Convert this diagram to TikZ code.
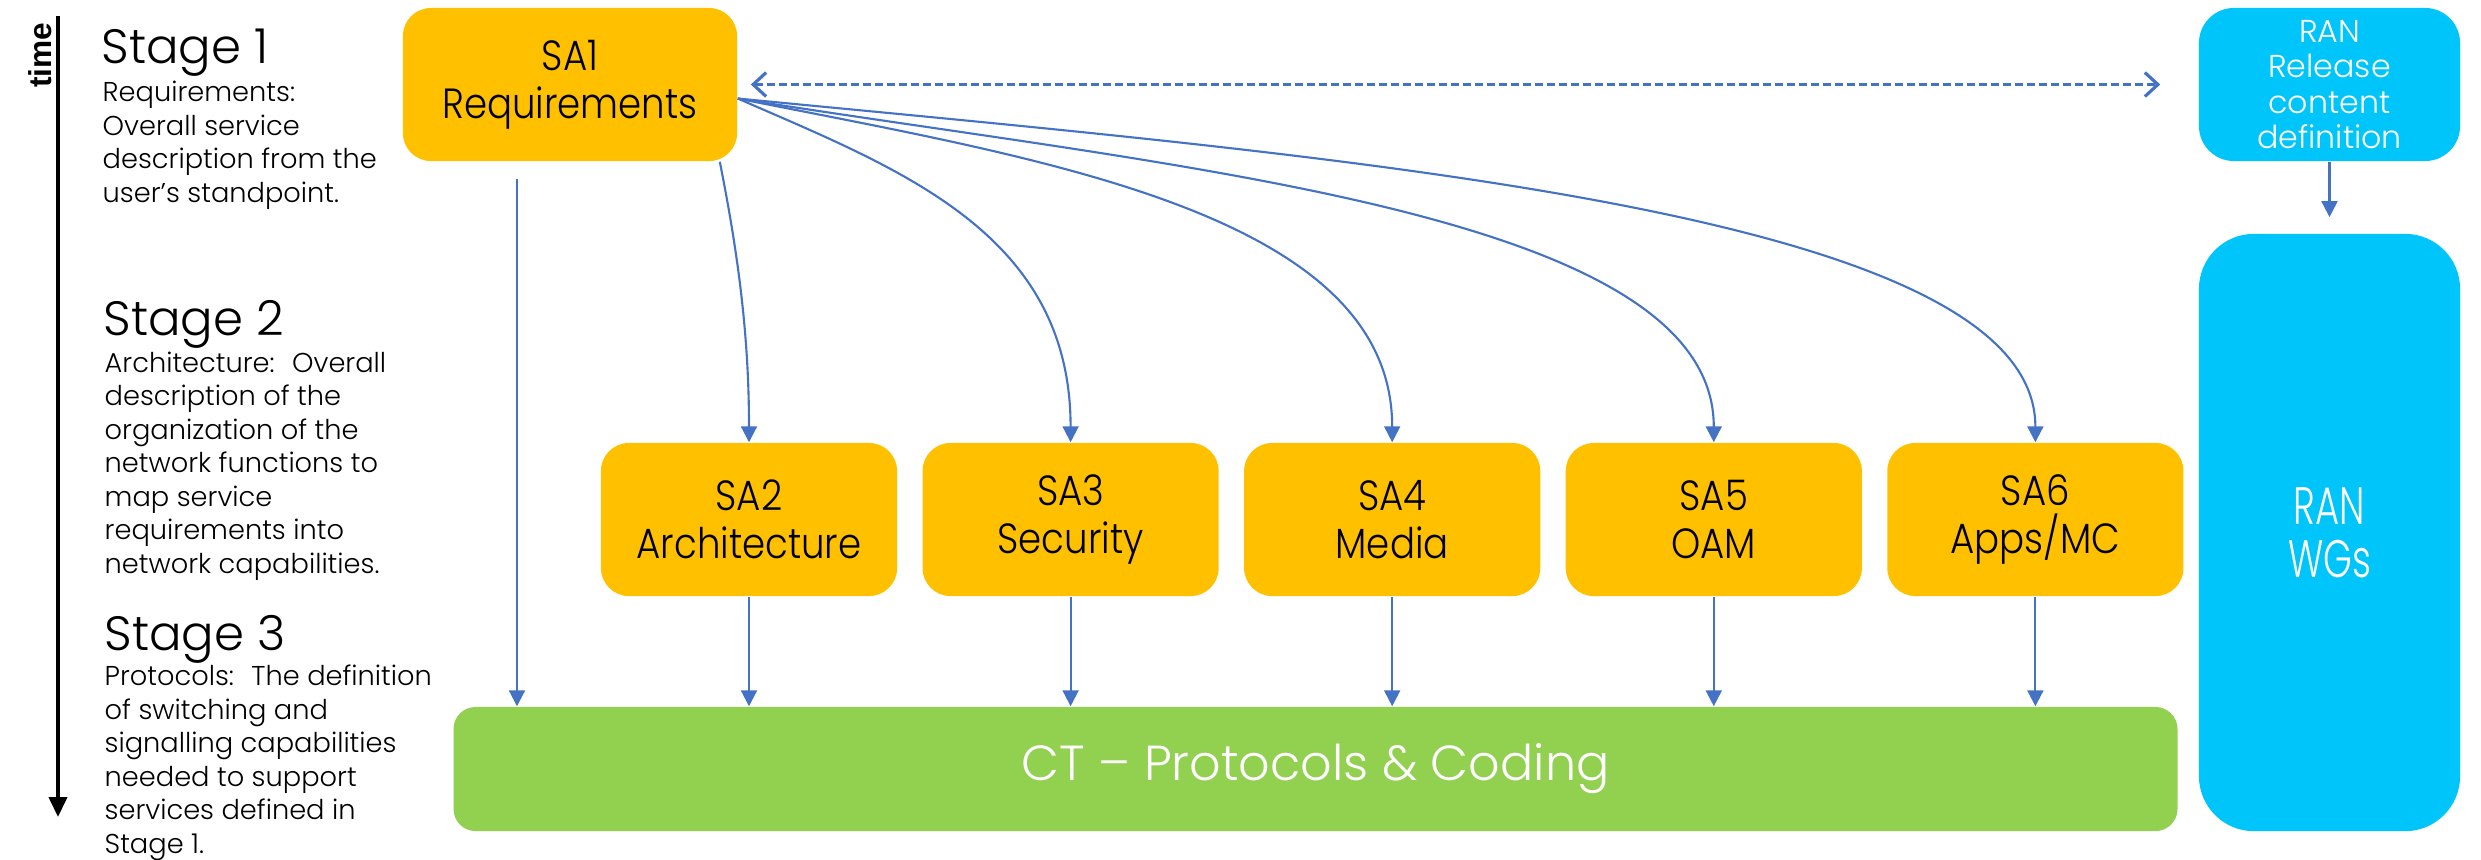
\documentclass[tikz,border=0pt]{standalone}
\usepackage{fontspec}
\setmainfont{Poppins Light}
\newfontfamily\boxfont{Poppins Light}[FakeStretch=0.88]
\newfontfamily\narrowfont{Poppins Light}[FakeStretch=0.7]
\newfontfamily\timefont{Liberation Sans}
\usepackage{tikz}
\usetikzlibrary{positioning, arrows.meta}
\definecolor{saorange}{HTML}{FFC000}
\definecolor{ctgreen}{HTML}{92D050}
\definecolor{rancyan}{HTML}{00C5FA}
\definecolor{arrowblue}{HTML}{4472C4}
\tikzset{
    block/.style={
        fill = saorange, rounded corners = 0.28cm,
        minimum width = 2.96cm,
        minimum height = 1.53cm,
        align = center, inner sep = 0pt,
        font = \boxfont\fontsize{12}{13.7}\selectfont
    },
    ranblock/.style={
        fill = rancyan, text = white,
        minimum width = 2.61cm,
        align = center, inner sep = 0pt
    },
    stagetitle/.style = {anchor = base west, inner sep = 0pt, font = \fontsize{13.7}{16}\selectfont},
    stagetext/.style = {anchor = base west, inner sep = 0pt, align = left, font = \fontsize{7.75}{9.5}\selectfont},
    line/.style = {arrowblue, line width = 0.6pt, -{Triangle[length=1.6mm, width=1.6mm]}},
    dline/.style = {arrowblue, line width = 0.9pt, dash pattern = on 0.08cm off 0.04cm,
        {Straight Barb[length=1.3mm, width=2.4mm]}-{Straight Barb[length=1.3mm, width=2.4mm]}}
}
\begin{document}
\begin{tikzpicture}[x=0.01cm, y=-0.01cm]
\useasboundingbox (0,0) rectangle (2481,859);

% time axis
\node[inner sep=0pt, rotate=90, font=\timefont\bfseries\fontsize{9}{10}\selectfont] (time) at (40,55) {time};
\coordinate (ttop) at (58,16);
\coordinate (tbot) at (58,817);
\draw[line width=1.1pt, -{Triangle[length=2mm, width=1.8mm]}] (ttop) -- (tbot);

% stages (text nodes sit on the baseline of their last line)
\node[stagetitle] (stage1) at (101,63) {Stage 1};
\node[stagetext] (desc1) at (102,202) {Requirements:\\Overall service\\description from the\\user’s standpoint.};
\node[stagetitle] (stage2) at (103,335) {Stage 2};
\node[stagetext] (desc2) at (104,573) {Architecture:~ Overall\\description of the\\organization of the\\network functions to\\map service\\requirements into\\network capabilities.};
\node[stagetitle] (stage3) at (104,650) {Stage 3};
\node[stagetext] (desc3) at (104,853) {Protocols:~ The definition\\of switching and\\signalling capabilities\\needed to support\\services defined in\\Stage 1.};

% SA working groups
\node[block, minimum width=3.34cm] (sa1) at (570,84.5) {SA1\\Requirements};
\node[block] (sa2) at (749,519.5) {SA2\\Architecture};
\node[block, right=0.24cm of sa2] (sa3) {SA3\\Security};
\node[block, right=0.24cm of sa3] (sa4) {SA4\\Media};
\node[block, right=0.24cm of sa4] (sa5) {SA5\\OAM};
\node[block, right=0.24cm of sa5] (sa6) {SA6\\Apps/MC};

% CT
\node[fill=ctgreen, rounded corners=0.22cm, minimum width=17.23cm, minimum height=1.24cm,
    inner sep=0pt, text=white, font=\fontsize{14}{16}\selectfont] (ct) at (1315.5,769) {CT – Protocols \& Coding};

% RAN
\node[ranblock, rounded corners=0.35cm, minimum height=1.53cm, font=\fontsize{9}{10}\selectfont] (ranrel) at (2329.5,84.5) {RAN\\Release\\content\\definition};
\node[ranblock, rounded corners=0.55cm, minimum height=5.97cm, font=\narrowfont\fontsize{15}{15}\selectfont] (ranwg) at (2329.5,532.5) {RAN\\WGs};

% Lines
\coordinate (fan) at ([yshift=-0.14cm]sa1.east);
\coordinate (drop) at (517,179);
\draw[line] (drop) -- (drop |- ct.north);
\draw[line] ([xshift=-0.18cm]sa1.south east) .. controls +(20,100) and +(0,-100) .. (sa2.north);
\draw[line] (fan) .. controls +(160,70) and +(0,-210) .. (sa3.north);
\draw[line] (fan) .. controls +(300,60) and +(0,-230) .. (sa4.north);
\draw[line] (fan) .. controls +(440,70) and +(0,-230) .. (sa5.north);
\draw[line] (fan) .. controls +(620,60) and +(0,-230) .. (sa6.north);
\draw[line] (sa2.south) -- (sa2.south |- ct.north);
\draw[line] (sa3.south) -- (sa3.south |- ct.north);
\draw[line] (sa4.south) -- (sa4.south |- ct.north);
\draw[line] (sa5.south) -- (sa5.south |- ct.north);
\draw[line] (sa6.south) -- (sa6.south |- ct.north);
\draw[line, shorten >=0.16cm] (ranrel.south) -- (ranwg.north);
\draw[dline, shorten <=0.13cm, shorten >=0.38cm] (sa1.east) -- (ranrel.west);

\end{tikzpicture}
\end{document}
